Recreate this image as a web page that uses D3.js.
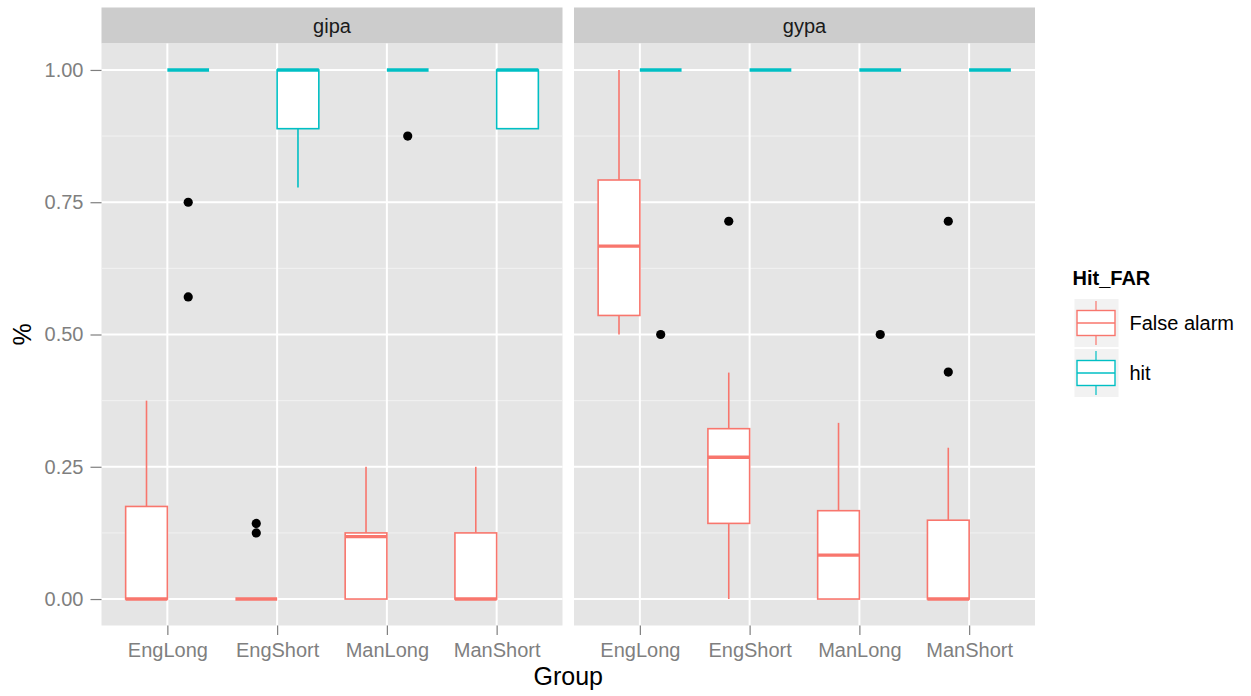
<!DOCTYPE html>
<html>
<head>
<meta charset="utf-8">
<script src="https://cdn.jsdelivr.net/npm/d3@7"></script>
<style>
  html, body { margin: 0; padding: 0; background: #ffffff; }
  svg { display: block; font-family: "Liberation Sans", Arial, Helvetica, sans-serif; }
</style>
</head>
<body>
<svg id="chart" width="1251" height="696"></svg>
<script>
// ---------------- data ----------------
const groups = ["EngLong", "EngShort", "ManLong", "ManShort"];
const panels = ["gipa", "gypa"];
const seriesNames = ["False alarm", "hit"];
const yTicks = [0, 0.25, 0.5, 0.75, 1];
const yMinor = [0.125, 0.375, 0.625, 0.875];

// box stats: [lower whisker, Q1, median, Q3, upper whisker] per group
const gipaFalseAlarm = [[0, 0, 0, 0.175, 0.375], [0, 0, 0, 0, 0], [0, 0, 0.118, 0.125, 0.25], [0, 0, 0, 0.125, 0.25]];
const gipaFalseAlarmOut = [[], [0.143, 0.125], [], []];
const gipaHit = [[1, 1, 1, 1, 1], [0.778, 0.889, 1, 1, 1], [1, 1, 1, 1, 1], [0.889, 0.889, 1, 1, 1]];
const gipaHitOut = [[0.75, 0.571], [], [0.875], []];

const gypaFalseAlarm = [[0.5, 0.536, 0.667, 0.792, 1], [0, 0.143, 0.268, 0.322, 0.428], [0, 0, 0.083, 0.167, 0.333], [0, 0, 0, 0.149, 0.286]];
const gypaFalseAlarmOut = [[], [0.714], [], [0.714, 0.429]];
const gypaHit = [[1, 1, 1, 1, 1], [1, 1, 1, 1, 1], [1, 1, 1, 1, 1], [1, 1, 1, 1, 1]];
const gypaHitOut = [[0.5], [], [0.5], []];

const colors = ["#F8766D", "#00BFC4"];

// ---------------- build ----------------
const panelData = {
  gipa: [{ stats: gipaFalseAlarm, out: gipaFalseAlarmOut }, { stats: gipaHit, out: gipaHitOut }],
  gypa: [{ stats: gypaFalseAlarm, out: gypaFalseAlarmOut }, { stats: gypaHit, out: gypaHitOut }]
};

const svg = d3.select("#chart");
const panelLeft = [101.5, 574];
const panelW = 461;
const pTop = 43.5, pBottom = 625.5, stripTop = 7.5;

const y = d3.scaleLinear().domain([-0.05, 1.05]).range([pBottom, pTop]);
const color = d3.scaleOrdinal().domain(seriesNames).range(colors);
const tickGrey = "#7f7f7f";

panels.forEach((p, pi) => {
  const x = d3.scalePoint().domain(groups).range([0, panelW]).padding(0.6);
  const bw = x.step() * 0.38;
  const g = svg.append("g").attr("transform", `translate(${panelLeft[pi]},0)`);

  // strip
  g.append("rect").attr("x", 0).attr("y", stripTop).attr("width", panelW).attr("height", pTop - stripTop).attr("fill", "#cccccc");
  g.append("text").attr("x", panelW / 2).attr("y", (stripTop + pTop) / 2).attr("dy", "0.35em")
    .attr("text-anchor", "middle").attr("font-size", 20).attr("fill", "#1a1a1a").text(p);

  // background
  g.append("rect").attr("x", 0).attr("y", pTop).attr("width", panelW).attr("height", pBottom - pTop).attr("fill", "#e5e5e5");
  g.selectAll(".minor").data(yMinor).enter().append("line")
    .attr("x1", 0).attr("x2", panelW).attr("y1", d => y(d)).attr("y2", d => y(d))
    .attr("stroke", "#f2f2f2").attr("stroke-width", 1);
  g.selectAll(".major").data(yTicks).enter().append("line")
    .attr("x1", 0).attr("x2", panelW).attr("y1", d => y(d)).attr("y2", d => y(d))
    .attr("stroke", "#ffffff").attr("stroke-width", 2);
  g.selectAll(".vgrid").data(groups).enter().append("line")
    .attr("x1", d => x(d)).attr("x2", d => x(d)).attr("y1", pTop).attr("y2", pBottom)
    .attr("stroke", "#ffffff").attr("stroke-width", 2);

  // boxes
  seriesNames.forEach((s, si) => {
    const col = color(s);
    const sd = panelData[p][si];
    groups.forEach((grp, gi) => {
      const st = sd.stats[gi];
      const x0 = x(grp) + (si === 0 ? -bw : 0);
      const cx = x0 + bw / 2;
      const bg = g.append("g");
      // whiskers
      bg.append("line").attr("x1", cx).attr("x2", cx).attr("y1", y(st[3])).attr("y2", y(st[4]))
        .attr("stroke", col).attr("stroke-width", 1.6);
      bg.append("line").attr("x1", cx).attr("x2", cx).attr("y1", y(st[1])).attr("y2", y(st[0]))
        .attr("stroke", col).attr("stroke-width", 1.6);
      // box
      bg.append("rect").attr("x", x0).attr("y", y(st[3])).attr("width", bw)
        .attr("height", Math.max(0, y(st[1]) - y(st[3])))
        .attr("fill", "#ffffff").attr("stroke", col).attr("stroke-width", 1.6);
      // median
      bg.append("line").attr("x1", x0).attr("x2", x0 + bw).attr("y1", y(st[2])).attr("y2", y(st[2]))
        .attr("stroke", col).attr("stroke-width", 3.4);
      // outliers
      bg.selectAll("circle").data(sd.out[gi]).enter().append("circle")
        .attr("cx", cx).attr("cy", d => y(d)).attr("r", 4.6).attr("fill", "#000000");
    });
  });

  // x axis
  const xa = g.append("g").attr("transform", `translate(0,${pBottom})`)
    .call(d3.axisBottom(x).tickSize(9.5).tickPadding(8));
  xa.select(".domain").remove();
  xa.selectAll(".tick line").attr("stroke", tickGrey).attr("stroke-width", 1.2);
  xa.selectAll(".tick text").attr("font-size", 20).attr("fill", tickGrey).attr("font-family", "Liberation Sans, Arial, sans-serif");
});

// y axis
const ya = svg.append("g").attr("transform", `translate(${panelLeft[0]},0)`)
  .call(d3.axisLeft(y).tickValues(yTicks).tickFormat(d3.format(".2f")).tickSize(11).tickPadding(7));
ya.select(".domain").remove();
ya.selectAll(".tick line").attr("stroke", tickGrey).attr("stroke-width", 1.2);
ya.selectAll(".tick text").attr("font-size", 20).attr("fill", tickGrey).attr("font-family", "Liberation Sans, Arial, sans-serif");

// axis titles
svg.append("text").attr("x", (panelLeft[1] + panelW + panelLeft[0]) / 2).attr("y", 685)
  .attr("text-anchor", "middle").attr("font-size", 25).attr("fill", "#000000").text("Group");
svg.append("text").attr("transform", `translate(31,${y(0.5)}) rotate(-90)`)
  .attr("text-anchor", "middle").attr("font-size", 25).attr("fill", "#000000").text("%");

// legend
const lg = svg.append("g").attr("transform", "translate(1072.5,0)");
lg.append("text").attr("x", 0).attr("y", 285).attr("font-size", 20).attr("font-weight", "bold")
  .attr("fill", "#000000").text("Hit_FAR");
seriesNames.forEach((s, i) => {
  const cy = 323 + i * 50;
  const col = color(s);
  const k = lg.append("g");
  k.append("rect").attr("x", 2).attr("y", cy - 24).attr("width", 44).attr("height", 48).attr("fill", "#f2f2f2");
  k.append("line").attr("x1", 23.5).attr("x2", 23.5).attr("y1", cy - 22).attr("y2", cy + 22).attr("stroke", col).attr("stroke-width", 1.2);
  k.append("rect").attr("x", 4.5).attr("y", cy - 12.5).attr("width", 38).attr("height", 25)
    .attr("fill", "#ffffff").attr("stroke", col).attr("stroke-width", 1.4);
  k.append("line").attr("x1", 4.5).attr("x2", 42.5).attr("y1", cy).attr("y2", cy).attr("stroke", col).attr("stroke-width", 1.4);
  k.append("text").attr("x", 57).attr("y", cy).attr("dy", "0.35em").attr("font-size", 20).attr("fill", "#000000").text(s);
});
</script>
</body>
</html>
